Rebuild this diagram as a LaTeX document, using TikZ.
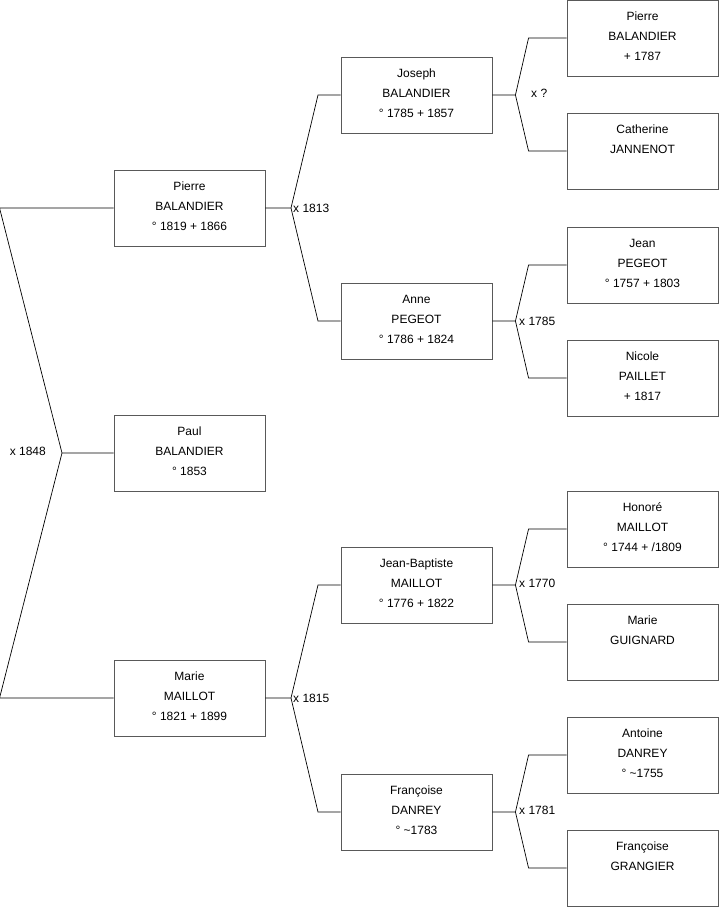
\documentclass[tikz,border=0pt]{standalone}
\usepackage{fontspec}
\setmainfont{Liberation Sans}
\usetikzlibrary{positioning,calc}
\tikzset{
  person/.style={draw=black!65,line width=0.9pt,minimum width=151pt,minimum height=76pt,
    inner sep=0pt,align=center,font=\fontsize{12}{20}\selectfont},
  link/.style={draw=black,line width=0.7pt},
  wed/.style={font=\fontsize{12}{14}\selectfont,inner sep=0pt}
}
\newcommand{\pers}[3]{\strut #1\\\strut #2\\\strut #3\rule[-10pt]{0pt}{10pt}}

\begin{document}
\begin{tikzpicture}[x=1pt,y=-1pt]
    \useasboundingbox (0,0) rectangle (719,908);
    % first column
    \node[person] (pierre1) at (189.5,208) {\pers{Pierre}{BALANDIER}{° 1819 + 1866}};
    \node[person] (paul)    at (189.5,453) {\pers{Paul}{BALANDIER}{° 1853}};
    \node[person] (marie1)  at (189.5,698) {\pers{Marie}{MAILLOT}{° 1821 + 1899}};
    % second column
    \node[person] (joseph)  at (416.5,95)  {\pers{Joseph}{BALANDIER}{° 1785 + 1857}};
    \node[person] (anne)    at (416.5,321) {\pers{Anne}{PEGEOT}{° 1786 + 1824}};
    \node[person] (jeanbap) at (416.5,585) {\pers{Jean-Baptiste}{MAILLOT}{° 1776 + 1822}};
    \node[person] (franc1)  at (416.5,812) {\pers{Françoise}{DANREY}{° \textasciitilde 1783}};
    % third column
    \node[person] (pierre2) at (642.5,38)  {\pers{Pierre}{BALANDIER}{+ 1787}};
    \node[person] (cather)  at (642.5,151) {\pers{Catherine}{JANNENOT}{}};
    \node[person] (jean)    at (642.5,265) {\pers{Jean}{PEGEOT}{° 1757 + 1803}};
    \node[person] (nicole)  at (642.5,378) {\pers{Nicole}{PAILLET}{+ 1817}};
    \node[person] (honore)  at (642.5,529) {\pers{Honoré}{MAILLOT}{° 1744 + /1809}};
    \node[person] (marie2)  at (642.5,642) {\pers{Marie}{GUIGNARD}{}};
    \node[person] (antoine) at (642.5,755) {\pers{Antoine}{DANREY}{° \textasciitilde 1755}};
    \node[person] (franc2)  at (642.5,868) {\pers{Françoise}{GRANGIER}{}};

    % marriage of the parents
    \coordinate (w1848) at (62,453);
    \draw[link] (pierre1.west) -- ++(-114,0) -- (w1848) -- (paul.west);
    \draw[link] (marie1.west) -- ++(-114,0) -- (w1848);
    \node[wed,anchor=east] (x1848) at (46,451) {x 1848};

    % grandparents
    \coordinate (w1813) at (291,208);
    \draw[link] (pierre1.east) -- (w1813) -- (318,95) -- (joseph.west);
    \draw[link] (w1813) -- (318,321) -- (anne.west);
    \node[wed,anchor=west] (x1813) at (293,208) {x 1813};
    \coordinate (w1815) at (291,698);
    \draw[link] (marie1.east) -- (w1815) -- (318,585) -- (jeanbap.west);
    \draw[link] (w1815) -- (318,812) -- (franc1.west);
    \node[wed,anchor=west] (x1815) at (293,698) {x 1815};

    % great-grandparents
    \foreach \kid/\dad/\mum in {joseph/pierre2/cather,anne/jean/nicole,
        jeanbap/honore/marie2,franc1/antoine/franc2}{%
      \coordinate (w\kid) at ($(\kid.east)+(23,0)$);
      \draw[link] (\kid.east) -- (w\kid) -- ($(\dad.west)+(-38,0)$) -- (\dad.west);
      \draw[link] (w\kid) -- ($(\mum.west)+(-38,0)$) -- (\mum.west);
    }
    \node[wed,anchor=west] (xq)    at (531,93)  {x ?};
    \node[wed,anchor=west] (x1785) at (519,321) {x 1785};
    \node[wed,anchor=west] (x1770) at (519,583) {x 1770};
    \node[wed,anchor=west] (x1781) at (519,810) {x 1781};
\end{tikzpicture}
\end{document}
